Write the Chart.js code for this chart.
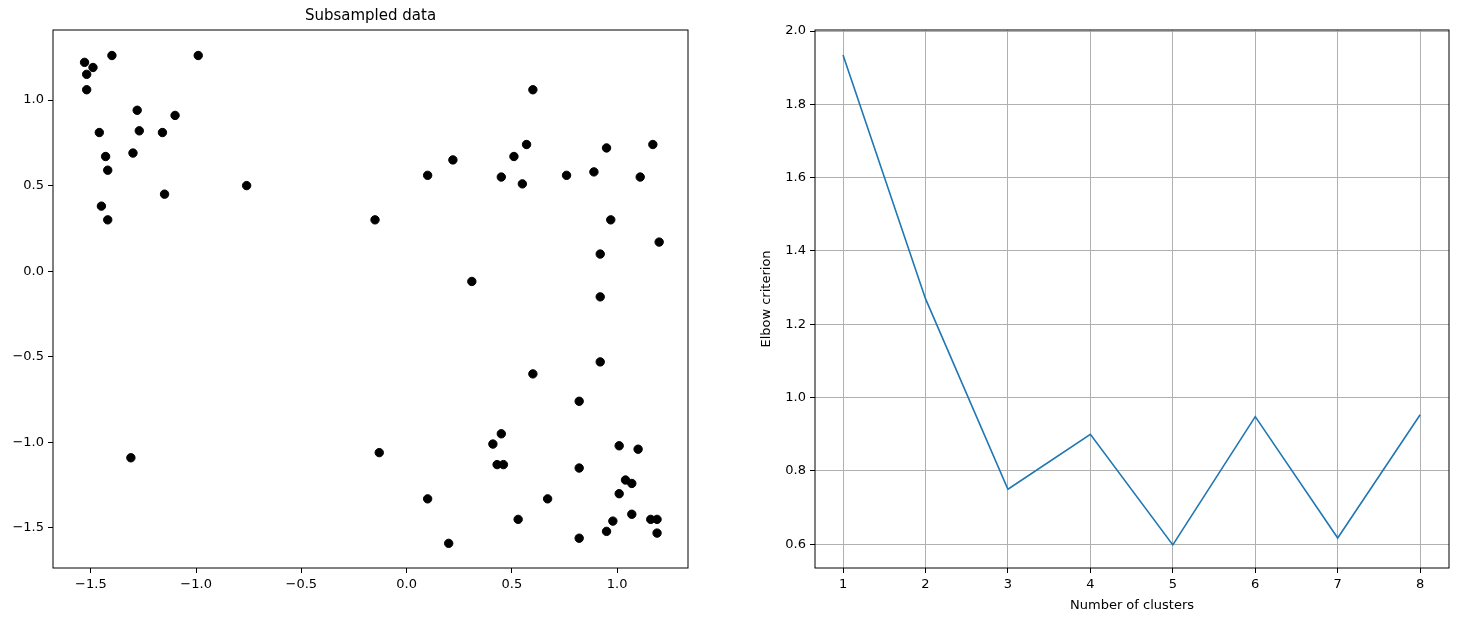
<!DOCTYPE html>
<html><head><meta charset="utf-8">
<script src="https://cdn.jsdelivr.net/npm/chart.js@4"></script>
<style>
body{margin:0;width:1458px;height:623px;background:#fff;position:relative;font-family:"DejaVu Sans";overflow:hidden}
.box{position:absolute;top:0;width:729px;height:623px}
#title{position:absolute;top:6px;left:53px;width:635px;text-align:center;font-size:15px;color:#000}
</style></head><body>
<div class="box" style="left:0"><canvas id="c1"></canvas></div>
<div class="box" style="left:729px"><canvas id="c2"></canvas></div>
<div id="title">Subsampled data</div>
<script>
// scatter points (x, y)
const ptsX = [-1.53,-1.52,-1.49,-1.52,-1.40,-0.99,-1.46,-1.43,-1.42,-1.45,-1.42,-1.28,-1.27,-1.30,-1.16,-1.10,-1.15,-0.76,-0.15,0.10,0.22,0.31,0.45,0.51,0.55,0.57,0.60,0.76,0.89,0.95,1.11,1.17,0.97,1.20,0.92,0.92,0.92,0.60,0.82,-1.31,-0.13,0.41,0.45,0.43,0.46,0.82,1.01,1.10,1.04,1.07,1.01,0.10,0.67,0.53,0.98,1.07,1.16,1.19,0.95,1.19,0.82,0.20];
const ptsY = [1.22,1.15,1.19,1.06,1.26,1.26,0.81,0.67,0.59,0.38,0.30,0.94,0.82,0.69,0.81,0.91,0.45,0.50,0.30,0.56,0.65,-0.06,0.55,0.67,0.51,0.74,1.06,0.56,0.58,0.72,0.55,0.74,0.30,0.17,0.10,-0.15,-0.53,-0.60,-0.76,-1.09,-1.06,-1.01,-0.95,-1.13,-1.13,-1.15,-1.02,-1.04,-1.22,-1.24,-1.30,-1.33,-1.33,-1.45,-1.46,-1.42,-1.45,-1.45,-1.52,-1.53,-1.56,-1.59];
const leftXTicks = [-1.5,-1.0,-0.5,0.0,0.5,1.0];
const leftYTicks = [-1.5,-1.0,-0.5,0.0,0.5,1.0];
// elbow curve
const clusters = [1,2,3,4,5,6,7,8];
const elbow = [1.935,1.27,0.75,0.90,0.598,0.948,0.617,0.953];
const rightYTicks = [0.6,0.8,1.0,1.2,1.4,1.6,1.8,2.0];

Chart.defaults.font.family = 'DejaVu Sans';
Chart.defaults.font.size = 13;
Chart.defaults.color = '#000';
Chart.defaults.animation = false;

const fmt = v => v.toFixed(1).replace('-', '\u2212');
const frame = {id:'frame', afterDraw(c){const a=c.chartArea,x=c.ctx;x.save();x.strokeStyle='#000';x.lineWidth=1;x.strokeRect(a.left,a.top,a.right-a.left,a.bottom-a.top);x.restore();}};
const fixTicks = arr => s => { s.ticks = arr.map(v => ({value:v})); };

function axis(min, max, ticks, grid, extra){
  return Object.assign({type:'linear', min, max, afterBuildTicks: fixTicks(ticks),
    ticks:{callback: v => fmt(v), padding:4, autoSkip:false, maxRotation:0},
    grid:{drawOnChartArea:grid, color:'#b0b0b0', tickColor:'#000', tickLength:5},
    border:{display:false}}, extra);
}

new Chart(document.getElementById('c1'), {
  type:'scatter',
  data:{datasets:[{data: ptsX.map((x,i)=>({x, y:ptsY[i]})), backgroundColor:'#000', borderColor:'#000', pointRadius:4.2}]},
  options:{responsive:true, maintainAspectRatio:false,
    layout:{padding:{top:30,right:41,left:0,bottom:0}},
    plugins:{legend:{display:false}, tooltip:{enabled:false}},
    scales:{
      x: axis(-1.68,1.337,leftXTicks,false,{afterFit:s=>{s.height=55;}}),
      y: axis(-1.734,1.409,leftYTicks,false,{afterFit:s=>{s.width=53;}})
    }},
  plugins:[frame]
});

new Chart(document.getElementById('c2'), {
  type:'line',
  data:{datasets:[{data: clusters.map((x,i)=>({x, y:elbow[i]})), borderColor:'#1f77b4', borderWidth:1.6, pointRadius:0, tension:0, fill:false}]},
  options:{responsive:true, maintainAspectRatio:false,
    layout:{padding:{top:30,right:9,left:30,bottom:0}},
    plugins:{legend:{display:false}, tooltip:{enabled:false}},
    scales:{
      x: axis(0.66,8.35,clusters,true,{ticks:{callback:v=>String(v),padding:4,autoSkip:false,maxRotation:0},
        title:{display:true,text:'Number of clusters',padding:{top:2,bottom:10}}, afterFit:s=>{s.height=55;}}),
      y: axis(0.535,2.003,rightYTicks,true,{title:{display:true,text:'Elbow criterion',padding:{top:0,bottom:4}}, afterFit:s=>{s.width=56;}})
    }},
  plugins:[frame]
});
</script>
</body></html>
